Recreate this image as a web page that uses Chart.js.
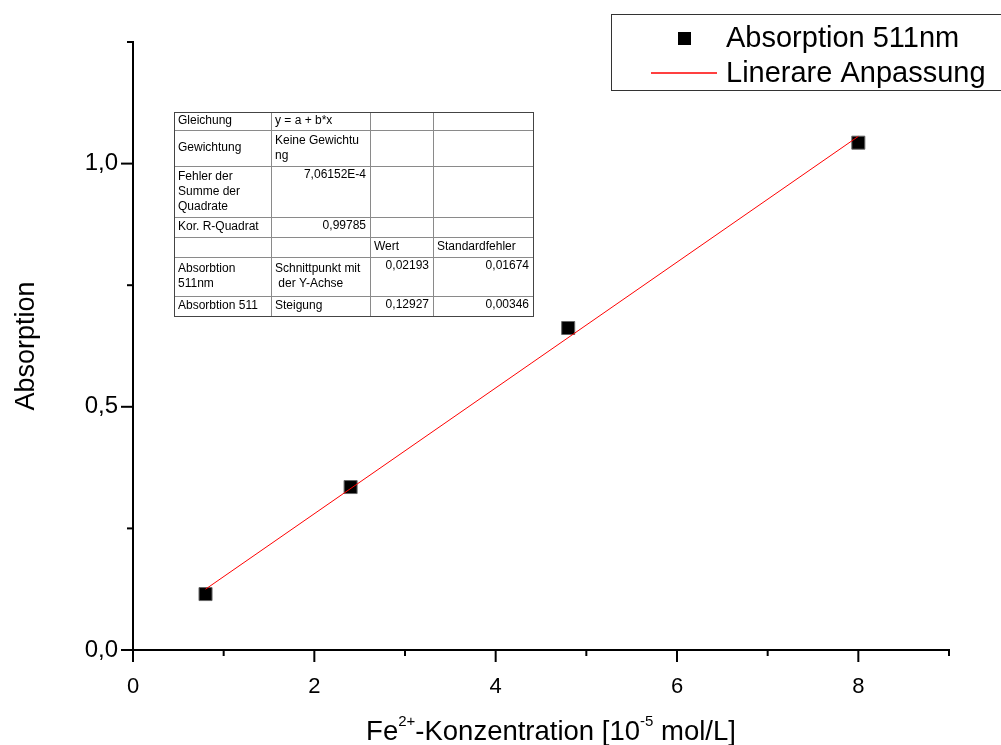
<!DOCTYPE html>
<html>
<head>
<meta charset="utf-8">
<script src="https://cdn.jsdelivr.net/npm/chart.js@4.4.1/dist/chart.umd.min.js"></script>
<style>
  html, body { margin: 0; padding: 0; background: #fff; }
  #wrap { width: 1001px; height: 745px; }
</style>
</head>
<body>
<div id="wrap"><canvas id="chart" width="1001" height="745"></canvas></div>
<script>
// --- data ---
const concentration = [0.8, 2.4, 4.8, 8];          // Fe2+ [10^-5 mol/L]
const absorption = [0.115, 0.335, 0.662, 1.043];   // Absorption 511nm
const fitX = [0.8, 8];                             // Linerare Anpassung, ends
const fitY = [0.125, 1.056];

const seriesNames = ["Absorption 511nm", "Linerare Anpassung"];
const yTitle = "Absorption";
// x title pieces, sup = superscript
const xTitleParts = [["Fe", false], ["2+", true], ["-Konzentration [10", false], ["-5", true], [" mol/L]", false]];

// fit result table (Origin style)
const tableRows = [
  [["Gleichung"], ["y = a + b*x"], [], []],
  [["Gewichtung"], ["Keine Gewichtu", "ng"], [], []],
  [["Fehler der", "Summe der", "Quadrate"], ["7,06152E-4"], [], []],
  [["Kor. R-Quadrat"], ["0,99785"], [], []],
  [[], [], ["Wert"], ["Standardfehler"]],
  [["Absorbtion", "511nm"], ["Schnittpunkt mit", " der Y-Achse"], ["0,02193"], ["0,01674"]],
  [["Absorbtion 511"], ["Steigung"], ["0,12927"], ["0,00346"]]
];

const FONT = "'Liberation Sans', Arial, sans-serif";
const FIT_COLOR = "#ff0000";
const comma = v => v.toFixed(1).replace(".", ",");

// table layout (pixels)
const tblCols = [174, 271, 370, 433, 533];
const tblRowsY = [112, 130, 166, 217, 237, 257, 296, 316];

const tablePlugin = {
  id: "fitTable",
  afterDraw(chart) {
    const ctx = chart.ctx;
    ctx.save();
    ctx.fillStyle = "#fff";
    ctx.fillRect(tblCols[0], tblRowsY[0], tblCols[4] - tblCols[0], tblRowsY[7] - tblRowsY[0]);
    ctx.strokeStyle = "#8a8a8a";
    ctx.lineWidth = 1;
    tblRowsY.forEach(y => {
      ctx.beginPath(); ctx.moveTo(tblCols[0], y + 0.5); ctx.lineTo(tblCols[4], y + 0.5); ctx.stroke();
    });
    tblCols.forEach(x => {
      ctx.beginPath(); ctx.moveTo(x + 0.5, tblRowsY[0]); ctx.lineTo(x + 0.5, tblRowsY[7]); ctx.stroke();
    });
    ctx.strokeStyle = "#444";
    ctx.strokeRect(tblCols[0] + 0.5, tblRowsY[0] + 0.5, tblCols[4] - tblCols[0], tblRowsY[7] - tblRowsY[0]);

    ctx.font = "12px " + FONT;
    ctx.fillStyle = "#000";
    ctx.textBaseline = "middle";
    const lh = 15;
    tableRows.forEach((row, r) => {
      const top = tblRowsY[r], bot = tblRowsY[r + 1];
      row.forEach((lines, c) => {
        if (!lines.length) return;
        const numeric = /^[\d,E\-]+$/.test(lines[0]);
        let y0;
        if (numeric) y0 = top + 9;
        else y0 = (top + bot) / 2 - (lines.length - 1) * lh / 2;
        lines.forEach((t, i) => {
          if (numeric) { ctx.textAlign = "right"; ctx.fillText(t, tblCols[c + 1] - 4, y0 + i * lh); }
          else { ctx.textAlign = "left"; ctx.fillText(t, tblCols[c] + 4, y0 + i * lh); }
        });
      });
    });
    ctx.restore();
  }
};

// Origin style ticks: long at labelled values, short in between, pointing out
const ticksPlugin = {
  id: "originTicks",
  afterDraw(chart) {
    const ctx = chart.ctx, xs = chart.scales.x, ys = chart.scales.y;
    const area = chart.chartArea;
    ctx.save();
    ctx.strokeStyle = "#000";
    ctx.lineWidth = 2;
    xs.ticks.forEach(t => {
      const px = xs.getPixelForValue(t.value);
      const len = t.value % 2 === 0 ? 12 : 6;
      ctx.beginPath(); ctx.moveTo(px, area.bottom); ctx.lineTo(px, area.bottom + len); ctx.stroke();
    });
    ys.ticks.forEach(t => {
      const py = ys.getPixelForValue(t.value);
      const len = Math.abs(t.value * 2 - Math.round(t.value * 2)) < 1e-6 ? 12 : 6;
      ctx.beginPath(); ctx.moveTo(area.left, py); ctx.lineTo(area.left - len, py); ctx.stroke();
    });

    // x axis title with superscripts
    const big = "27.5px " + FONT, small = "15px " + FONT;
    let w = 0;
    xTitleParts.forEach(([t, sup]) => { ctx.font = sup ? small : big; w += ctx.measureText(t).width; });
    let x = 551 - w / 2;
    const base = 740;
    ctx.fillStyle = "#000";
    ctx.textAlign = "left";
    ctx.textBaseline = "alphabetic";
    xTitleParts.forEach(([t, sup]) => {
      ctx.font = sup ? small : big;
      ctx.fillText(t, x, sup ? base - 14 : base);
      x += ctx.measureText(t).width;
    });
    ctx.restore();
  }
};

const legendPlugin = {
  id: "boxLegend",
  afterDraw(chart) {
    const ctx = chart.ctx;
    ctx.save();
    ctx.fillStyle = "#fff";
    ctx.fillRect(611, 14, 400, 76);
    ctx.strokeStyle = "#333";
    ctx.lineWidth = 1;
    ctx.strokeRect(611.5, 14.5, 400, 76);
    ctx.fillStyle = "#000";
    ctx.fillRect(678, 32, 13, 13);
    // fit sample line
    ctx.beginPath();
    ctx.strokeStyle = FIT_COLOR;
    ctx.lineWidth = 1.5;
    ctx.moveTo(651, 73);
    ctx.lineTo(717, 73);
    ctx.stroke();
    ctx.fillStyle = "#000";
    ctx.font = "29px " + FONT;
    ctx.textBaseline = "middle";
    ctx.textAlign = "left";
    ctx.fillText(seriesNames[0], 726, 39);
    ctx.fillText(seriesNames[1], 726, 74);
    ctx.restore();
  }
};

new Chart(document.getElementById("chart").getContext("2d"), {
  type: "scatter",
  data: {
    datasets: [
      {
        label: seriesNames[1],
        data: fitX.map((x, i) => ({ x, y: fitY[i] })),
        showLine: true,
        borderColor: FIT_COLOR,
        borderWidth: 1,
        pointRadius: 0,
        order: 0
      },
      {
        label: seriesNames[0],
        data: concentration.map((x, i) => ({ x, y: absorption[i] })),
        pointStyle: "rect",
        pointRadius: 9.2,
        backgroundColor: "#000",
        borderColor: "#666",
        borderWidth: 1,
        order: 1
      }
    ]
  },
  options: {
    responsive: false,
    animation: false,
    events: [],
    layout: { padding: { top: 42, right: 52, left: 0, bottom: 0 } },
    plugins: { legend: { display: false }, tooltip: { enabled: false } },
    scales: {
      x: {
        type: "linear",
        min: 0, max: 9,
        grid: { display: false, drawTicks: false },
        border: { display: true, color: "#000", width: 2 },
        ticks: {
          stepSize: 1,
          padding: 24,
          color: "#000",
          font: { family: FONT, size: 22 },
          callback: v => (v % 2 === 0 ? String(v) : "")
        },
        afterFit: s => { s.height = 95; }
      },
      y: {
        type: "linear",
        min: 0, max: 1.25,
        grid: { display: false, drawTicks: false },
        border: { display: true, color: "#000", width: 2 },
        ticks: {
          stepSize: 0.25,
          padding: 15,
          color: "#000",
          font: { family: FONT, size: 24 },
          callback: v => (Math.abs(v * 2 - Math.round(v * 2)) < 1e-6 ? comma(v) : "")
        },
        title: {
          display: true,
          text: yTitle,
          color: "#000",
          font: { family: FONT, size: 27 },
          padding: { top: 10, bottom: 0 }
        },
        afterFit: s => { s.width = 133; }
      }
    }
  },
  plugins: [tablePlugin, ticksPlugin, legendPlugin]
});
</script>
</body>
</html>
